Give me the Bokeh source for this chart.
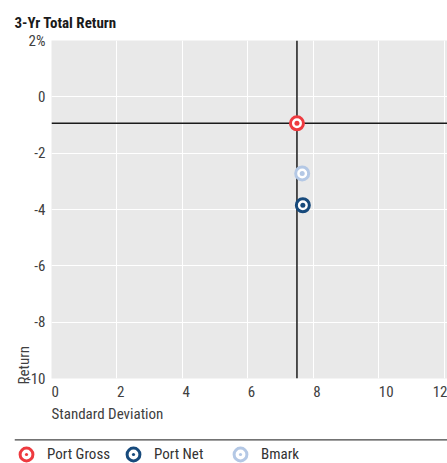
from bokeh.plotting import figure
from bokeh.layouts import column
from bokeh.models import (Range1d, FixedTicker, Span, Legend, LegendItem,
                          ColumnDataSource, Title)
from bokeh.embed import file_html
from bokeh.resources import INLINE

# ---------------- data ----------------
title_text = "3-Yr Total Return"
series_names = ["Port Gross", "Port Net", "Bmark"]
std_dev = [7.50, 7.68, 7.66]
total_return = [-0.94, -3.85, -2.72]
series_colors = ["#EE3A3F", "#174A7C", "#B4C8E5"]
x_ticks = [0, 2, 4, 6, 8, 10, 12]
y_ticks = [-10, -8, -6, -4, -2, 0, 2]
y_tick_labels = ["-10", "-8", "-6", "-4", "-2", "0", "2%"]
x_tick_labels = ["0", "2", "4", "6", "8", "10", "12"]
x_axis_title = "Standard Deviation"
y_axis_title = "Return"

FONT = "Roboto Condensed"
FS = "15px"
TXT = "#404040"
W = 447


def no_frame_align(fig):
    if "frame_align" in fig.properties():
        fig.frame_align = False


# thin header band
band = figure(width=W, height=3, output_backend="svg", toolbar_location=None,
              x_range=Range1d(0, 1), y_range=Range1d(0, 1),
              x_axis_location=None, y_axis_location=None,
              min_border_left=14, min_border_right=0, min_border_top=0,
              min_border_bottom=0, outline_line_color=None,
              background_fill_color="#EBEBEB", border_fill_color="white")
band.grid.visible = False
no_frame_align(band)

# ---------------- main chart ----------------
p = figure(width=W, height=427, output_backend="svg", toolbar_location=None,
           x_range=Range1d(0, 12.1), y_range=Range1d(-10, 2),
           min_border_left=51, min_border_right=0, min_border_top=36,
           min_border_bottom=52, background_fill_color="#E9E9E9",
           border_fill_color="white", outline_line_color=None)
no_frame_align(p)

p.title.text = title_text
p.title.align = "left"
p.title.offset = -37
p.title.standoff = 17
p.title.text_font = FONT
p.title.text_font_size = FS
p.title.text_font_style = "bold"
p.title.text_color = "#1a1a1a"

p.xaxis.ticker = FixedTicker(ticks=x_ticks)
p.yaxis.ticker = FixedTicker(ticks=y_ticks)
p.xaxis.major_label_overrides = dict(zip(x_ticks, x_tick_labels))
p.yaxis.major_label_overrides = dict(zip(y_ticks, y_tick_labels))
for ax in (p.xaxis[0], p.yaxis[0]):
    ax.axis_line_color = None
    ax.major_tick_line_color = None
    ax.minor_tick_line_color = None
    ax.major_tick_out = 0
    ax.major_tick_in = 0
    ax.major_label_text_font = FONT
    ax.major_label_text_font_size = FS
    ax.major_label_text_color = TXT
p.xaxis.major_label_orientation = -1e-6
p.xaxis.major_label_standoff = 13
p.yaxis.major_label_standoff = 6

p.add_layout(Title(text=x_axis_title, align="left", standoff=-5,
                   text_font=FONT, text_font_size=FS, text_color=TXT,
                   text_font_style="normal"), "below")
p.add_layout(Title(text=y_axis_title, align="left", standoff=-19, offset=-6,
                   text_font=FONT, text_font_size=FS, text_color=TXT,
                   text_font_style="normal"), "left")

p.xgrid.grid_line_color = "white"
p.ygrid.grid_line_color = "white"

# crosshair through the portfolio (gross) point
p.add_layout(Span(location=std_dev[0], dimension="height", line_color="#1a1a1a",
                  line_width=1.5, level="underlay"))
p.add_layout(Span(location=total_return[0], dimension="width",
                  line_color="#1a1a1a", line_width=1.5, level="underlay"))

src = ColumnDataSource(dict(x=std_dev, y=total_return, color=series_colors,
                            name=series_names))
p.scatter("x", "y", source=src, marker="circle_dot", size=13,
          fill_color="white", line_color="color", line_width=3)
p.scatter("x", "y", source=src, marker="circle", size=5,
          fill_color="color", line_color=None)

# ---------------- legend strip ----------------
q = figure(width=W, height=33, output_backend="svg", toolbar_location=None,
           x_range=Range1d(0, 1), y_range=Range1d(0, 33),
           x_axis_location=None, y_axis_location=None,
           min_border_left=14, min_border_right=0, min_border_top=0,
           min_border_bottom=0, outline_line_color=None,
           background_fill_color="white", border_fill_color="white")
q.grid.visible = False
no_frame_align(q)
q.add_layout(Span(location=23.7, dimension="width", line_color="#444444",
                  line_width=1.3))
ring = q.scatter("x", "y", source=src, marker="circle_dot", size=13,
                 fill_color="white", line_color="color", line_width=3)
items = [LegendItem(label=n, renderers=[ring], index=i)
         for i, n in enumerate(series_names)]
legend = Legend(items=items, orientation="horizontal", location=(-4, -7),
                glyph_width=32, glyph_height=32, label_standoff=5,
                label_width=70, label_height=20, spacing=0, padding=0,
                margin=0, border_line_color=None, background_fill_alpha=0,
                label_text_font=FONT, label_text_font_size=FS,
                label_text_color="#333333")
q.add_layout(legend)

layout = column(band, p, q, spacing=0)
open("out.html", "w").write(file_html(layout, INLINE))
